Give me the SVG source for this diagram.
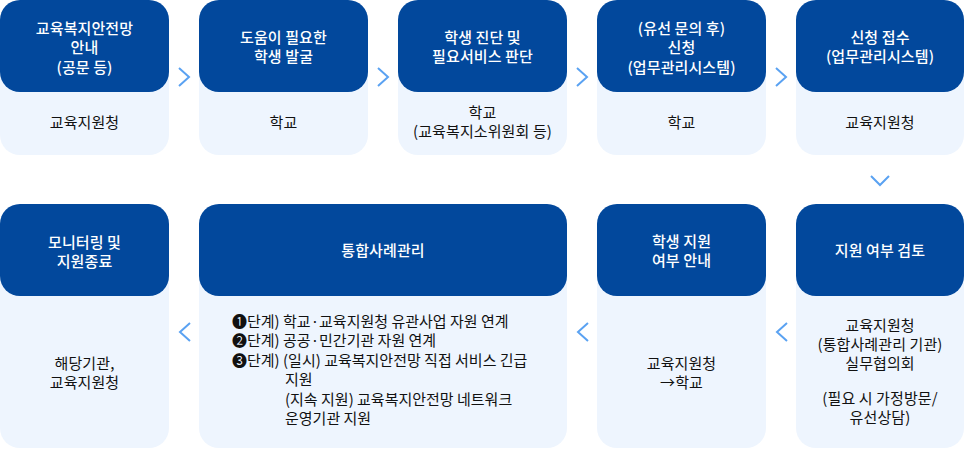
<svg xmlns="http://www.w3.org/2000/svg" width="964" height="449" viewBox="0 0 964 449">
<style>
.bg{fill:#EEF5FE}
.hd{fill:#02489C}
.ht{font-family:"Noto Sans CJK KR","Noto Sans",sans-serif;font-size:15px;font-weight:500;fill:#FFFFFF;text-anchor:middle;letter-spacing:0.1px}
.bt{font-family:"Noto Sans CJK KR","Noto Sans",sans-serif;font-size:15px;font-weight:400;fill:#111111;text-anchor:middle;letter-spacing:0.1px}
.lt{font-family:"Noto Sans CJK KR","Noto Sans",sans-serif;font-size:15px;font-weight:400;fill:#111111}
.ch{fill:none;stroke:#5AA2F2;stroke-width:2}
</style>
<rect width="964" height="449" fill="#FFFFFF"/>
<g id="n1">
<rect class="bg" x="0" y="0" width="169" height="155" rx="20"/>
<rect class="hd" x="0" y="0" width="169" height="92" rx="20"/>
<text class="ht" x="84.5" y="33.5">교육복지안전망<tspan x="84.5" dy="19.5">안내</tspan><tspan x="84.5" dy="19.5">(공문 등)</tspan></text>
<text class="bt" x="84.5" y="127.5">교육지원청</text>
</g>
<g id="n2">
<rect class="bg" x="199" y="0" width="169" height="155" rx="20"/>
<rect class="hd" x="199" y="0" width="169" height="92" rx="20"/>
<text class="ht" x="283.5" y="42.5">도움이 필요한<tspan x="283.5" dy="19">학생 발굴</tspan></text>
<text class="bt" x="283.5" y="127.5">학교</text>
</g>
<g id="n3">
<rect class="bg" x="398" y="0" width="169" height="155" rx="20"/>
<rect class="hd" x="398" y="0" width="169" height="92" rx="20"/>
<text class="ht" x="482.5" y="42.5">학생 진단 및<tspan x="482.5" dy="19">필요서비스 판단</tspan></text>
<text class="bt" x="482.5" y="118">학교<tspan x="482.5" dy="19">(교육복지소위원회 등)</tspan></text>
</g>
<g id="n4">
<rect class="bg" x="597" y="0" width="169" height="155" rx="20"/>
<rect class="hd" x="597" y="0" width="169" height="92" rx="20"/>
<text class="ht" x="681.5" y="33.5">(유선 문의 후)<tspan x="681.5" dy="19.5">신청</tspan><tspan x="681.5" dy="19.5">(업무관리시스템)</tspan></text>
<text class="bt" x="681.5" y="127.5">학교</text>
</g>
<g id="n5">
<rect class="bg" x="796" y="0" width="168" height="155" rx="20"/>
<rect class="hd" x="796" y="0" width="168" height="92" rx="20"/>
<text class="ht" x="880" y="42.5">신청 접수<tspan x="880" dy="19">(업무관리시스템)</tspan></text>
<text class="bt" x="880" y="127.5">교육지원청</text>
</g>
<g id="n6">
<rect class="bg" x="796" y="204" width="168" height="244" rx="20"/>
<rect class="hd" x="796" y="204" width="168" height="92" rx="20"/>
<text class="ht" x="880" y="255.5">지원 여부 검토</text>
<text class="bt" x="880" y="330.5">교육지원청<tspan x="880" dy="19">(통합사례관리 기관)</tspan><tspan x="880" dy="19">실무협의회</tspan><tspan x="880" dy="35">(필요 시 가정방문/</tspan><tspan x="880" dy="19">유선상담)</tspan></text>
</g>
<g id="n7">
<rect class="bg" x="597" y="204" width="169" height="244" rx="20"/>
<rect class="hd" x="597" y="204" width="169" height="92" rx="20"/>
<text class="ht" x="681.5" y="246.5">학생 지원<tspan x="681.5" dy="19">여부 안내</tspan></text>
<text class="bt" x="681.5" y="368.5">교육지원청<tspan x="681.5" dy="19">→학교</tspan></text>
</g>
<g id="n8">
<rect class="bg" x="199" y="204" width="368" height="244" rx="20"/>
<rect class="hd" x="199" y="204" width="368" height="92" rx="20"/>
<text class="ht" x="383" y="255.5">통합사례관리</text>
<text class="lt" x="232" y="326.5">❶단계) 학교·교육지원청 유관사업 자원 연계<tspan x="232" dy="19.5">❷단계) 공공·민간기관 자원 연계</tspan><tspan x="232" dy="19.5">❸단계) (일시) 교육복지안전망 직접 서비스 긴급</tspan><tspan x="285" dy="19.5">지원</tspan><tspan x="285" dy="19.5">(지속 지원) 교육복지안전망 네트워크</tspan><tspan x="285" dy="19.5">운영기관 지원</tspan></text>
</g>
<g id="n9">
<rect class="bg" x="0" y="204" width="169" height="244" rx="20"/>
<rect class="hd" x="0" y="204" width="169" height="92" rx="20"/>
<text class="ht" x="84.5" y="247.5">모니터링 및<tspan x="84.5" dy="19">지원종료</tspan></text>
<text class="bt" x="84.5" y="368.5">해당기관,<tspan x="84.5" dy="19">교육지원청</tspan></text>
</g>
<g id="connectors">
<polyline class="ch" points="179,68 189,77 179,86"/>
<polyline class="ch" points="378,68 388,77 378,86"/>
<polyline class="ch" points="577,68 587,77 577,86"/>
<polyline class="ch" points="776,68 786,77 776,86"/>
<polyline class="ch" points="871,176 880,185 889,176"/>
<polyline class="ch" points="787,323 777,332 787,341"/>
<polyline class="ch" points="588,323 578,332 588,341"/>
<polyline class="ch" points="190,323 180,332 190,341"/>
</g>
</svg>
